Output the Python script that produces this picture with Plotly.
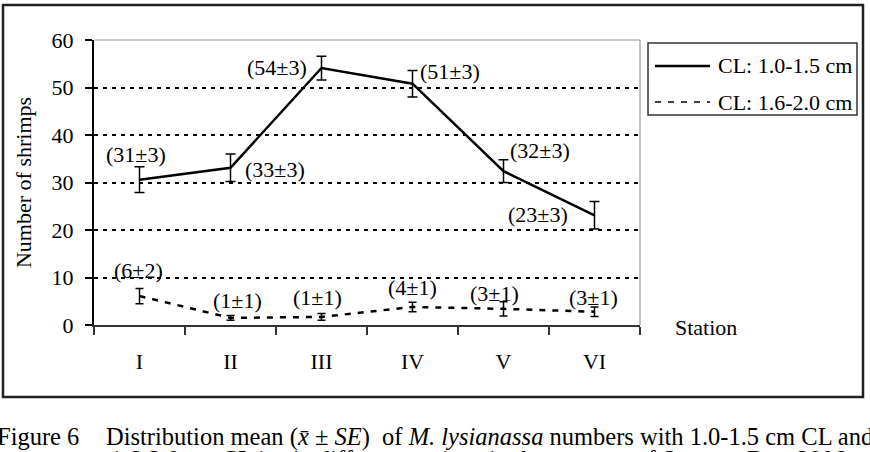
import plotly.graph_objects as go

# ---------------- data ----------------
stations = ["I", "II", "III", "IV", "V", "VI"]
cl1_mean = [30.6, 33.1, 54.1, 50.8, 32.4, 23.1]
cl1_se = [2.7, 2.9, 2.5, 2.8, 2.4, 2.9]
cl1_label_mean = [31, 33, 54, 51, 32, 23]
cl1_label_se = [3, 3, 3, 3, 3, 3]
cl2_mean = [6.1, 1.5, 1.7, 3.8, 3.4, 2.8]
cl2_se = [1.6, 0.5, 0.7, 1.0, 1.5, 1.0]
cl2_label_mean = [6, 1, 1, 4, 3, 3]
cl2_label_se = [2, 1, 1, 1, 1, 1]
series_names = ["CL: 1.0-1.5 cm", "CL: 1.6-2.0 cm"]
y_title = "Number of shrimps"
x_title = "Station"

# ---------------- layout constants ----------------
W, H = 870, 452
L, T, PW, PH = 94, 40, 546, 285
FONT = "Liberation Serif, Times New Roman, serif"

def px(x):
    return (x - L) / PW

def py(y):
    return (T + PH - y) / PH

# label offsets (pixels) relative to points
cl1_off = [(-4, 25), (44, -2), (-45, 1), (37, 12), (36, 21), (-57, 1)]
cl2_off = [(-1, 26), (7, 17), (-4, 19), (0, 19), (-9, 15), (-1, 14)]

fig = go.Figure()
fig.add_trace(go.Scatter(
    x=stations, y=cl1_mean, mode="lines", name=series_names[0],
    line=dict(color="black", width=2.5),
    error_y=dict(type="data", array=cl1_se, color="black", thickness=1.5, width=5),
    showlegend=False,
))
fig.add_trace(go.Scatter(
    x=stations, y=cl2_mean, mode="lines", name=series_names[1],
    line=dict(color="black", width=2.5, dash="6px,7px"),
    error_y=dict(type="data", array=cl2_se, color="black", thickness=1.5, width=4),
    showlegend=False,
))

annotations = []
for st, m, lm, ls, (dx, dy) in zip(stations, cl1_mean, cl1_label_mean, cl1_label_se, cl1_off):
    annotations.append(dict(x=st, y=m, xref="x", yref="y", text=f"({lm}±{ls})",
                            showarrow=False, xshift=dx, yshift=dy,
                            xanchor="center", yanchor="middle",
                            font=dict(family=FONT, size=22, color="black")))
for st, m, lm, ls, (dx, dy) in zip(stations, cl2_mean, cl2_label_mean, cl2_label_se, cl2_off):
    annotations.append(dict(x=st, y=m, xref="x", yref="y", text=f"({lm}±{ls})",
                            showarrow=False, xshift=dx, yshift=dy,
                            xanchor="center", yanchor="middle",
                            font=dict(family=FONT, size=22, color="black")))

def paper_text(x, y, text, size=22, xanchor="center"):
    return dict(x=px(x), y=py(y), xref="paper", yref="paper", text=text,
                xanchor=xanchor, yanchor="middle", showarrow=False,
                font=dict(family=FONT, size=size, color="black"))

# x-axis title
annotations.append(paper_text(706, 327, x_title))
# manual legend text
annotations.append(paper_text(716, 66, series_names[0], xanchor="left"))
annotations.append(paper_text(716, 102, series_names[1], xanchor="left"))
# caption
annotations.append(paper_text(-5, 437, "Figure 6", size=24.5, xanchor="left"))
annotations.append(paper_text(
    104, 437,
    "Distribution mean (<i>x\u0304</i> ± <i>SE</i>)  of <i>M. lysianassa</i> numbers with 1.0-1.5 cm CL and",
    size=24.5, xanchor="left"))
annotations.append(paper_text(
    108, 459,
    "1.6-2.0 cm CL in six different stations in the summer of Sanmen Bay, 2006",
    size=24.5, xanchor="left"))

shapes = [
    # outer frame
    dict(type="rect", xref="paper", yref="paper", x0=px(3), x1=px(863), y0=py(397), y1=py(5),
         line=dict(color="#222", width=2.5), layer="below"),
    # plot-area border (top / right)
    dict(type="line", xref="paper", yref="paper", x0=1, x1=1, y0=0, y1=1,
         line=dict(color="#999", width=1.2), layer="below"),
    dict(type="line", xref="paper", yref="paper", x0=0, x1=1, y0=1, y1=1,
         line=dict(color="#999", width=1.2), layer="below"),
    # legend box
    dict(type="rect", xref="paper", yref="paper", x0=px(648), x1=px(857), y0=py(115), y1=py(43),
         line=dict(color="#333", width=1.5), fillcolor="white"),
    dict(type="line", xref="paper", yref="paper", x0=px(655), x1=px(710), y0=py(66), y1=py(66),
         line=dict(color="black", width=2.5)),
    dict(type="line", xref="paper", yref="paper", x0=px(655), x1=px(710), y0=py(102), y1=py(102),
         line=dict(color="black", width=1.5, dash="6px,7px")),
]

fig.update_layout(
    width=W, height=H,
    margin=dict(l=L, r=W - L - PW, t=T, b=H - T - PH, pad=0),
    paper_bgcolor="white", plot_bgcolor="white",
    font=dict(family=FONT, size=22, color="black"),
    showlegend=False,
    annotations=annotations,
    shapes=shapes,
)
fig.update_xaxes(
    type="category", categoryorder="array", categoryarray=stations,
    range=[-0.5, 5.5], tickson="boundaries",
    ticks="outside", ticklen=8, tickwidth=2, tickcolor="#333",
    showline=True, linecolor="#333", linewidth=2,
    showgrid=False, zeroline=False,
    tickfont=dict(family=FONT, size=22, color="black"),
    ticklabelstandoff=16,
)
fig.update_yaxes(
    range=[0, 60], dtick=10, tick0=0,
    ticks="outside", ticklen=7, tickwidth=1.5, tickcolor="black",
    showline=True, linecolor="black", linewidth=2,
    showgrid=True, gridcolor="black", gridwidth=2, griddash="4px,5px",
    zeroline=False,
    tickfont=dict(family=FONT, size=22, color="black"),
    ticklabelstandoff=7,
    title=dict(text=y_title, font=dict(family=FONT, size=22, color="black"), standoff=14),
)

fig.write_html("out.html")
